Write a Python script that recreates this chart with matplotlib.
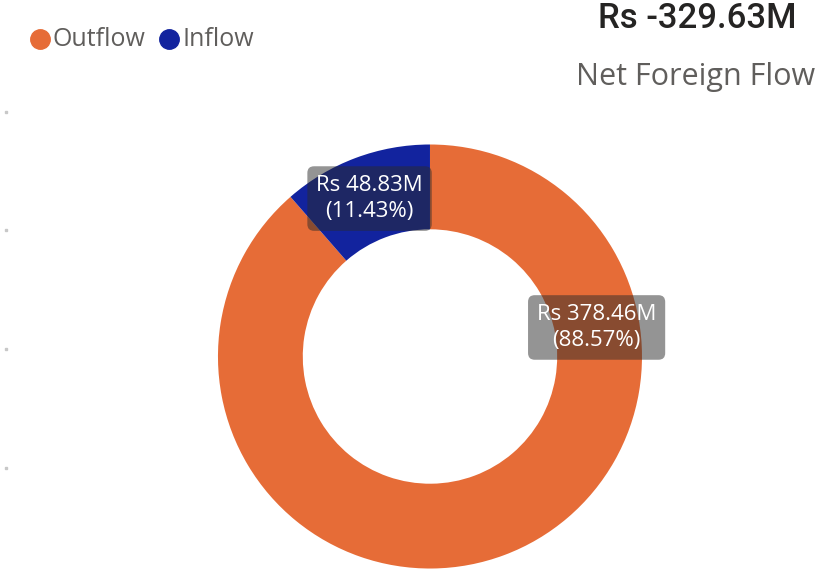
import matplotlib.pyplot as plt
from matplotlib.lines import Line2D

# data
categories = ['Outflow', 'Inflow']
values = [378.46, 48.83]
colors = ['#E66C37', '#12239E']
net_flow = values[1] - values[0]

plt.rcParams['font.family'] = ['Open Sans', 'DejaVu Sans']

fig = plt.figure(figsize=(8.38, 5.70), dpi=100)

# donut axes, centred on the ring
ax = fig.add_axes([0.2601, 0.0026, 0.506, 0.7439])
wedges, _ = ax.pie(values, colors=colors, startangle=90, counterclock=False,
                   radius=1.0, wedgeprops=dict(width=0.4, linewidth=0))
ax.set_xlim(-1, 1)
ax.set_ylim(-1, 1)
ax.set_aspect('equal')
ax.axis('off')

# data labels
total = sum(values)
label_pos = {'Outflow': (0.786, 0.137), 'Inflow': (-0.285, 0.745)}
for cat, v in zip(categories, values):
    x, y = label_pos[cat]
    ax.text(x, y, f'Rs {v:.2f}M\n({v / total * 100:.2f}%)', ha='center', va='center',
            color='white', fontsize=16, linespacing=1.3,
            bbox=dict(boxstyle='round,pad=0.4,rounding_size=0.3',
                      facecolor='#2b2b2b', alpha=0.5, edgecolor='none'))

# legend
for i, (cat, c) in enumerate(zip(categories, colors)):
    xm = [39.5, 169.0][i]
    fig.add_artist(Line2D([xm / 838], [1 - 39 / 570], marker='o', markersize=14,
                          color=c, linestyle='none', transform=fig.transFigure))
    fig.text((xm + 13) / 838, 1 - 39 / 570, cat, ha='left', va='center',
             fontsize=18, color='#605E5C')

# card title
fig.text(796 / 838, 1 - 18 / 570, f'Rs {net_flow:.2f}M', ha='right', va='center',
         fontsize=25, fontweight='medium', color='#252423', family=['Roboto', 'DejaVu Sans'])
fig.text(815 / 838, 1 - 77 / 570, 'Net Foreign Flow', ha='right', va='center',
         fontsize=22, color='#605E5C')

# faint axis ticks on the left edge
for yp in [112, 230, 349, 468]:
    fig.add_artist(Line2D([6 / 838], [1 - yp / 570], marker='s', markersize=1.5,
                          color='#c8c8c8', linestyle='none', transform=fig.transFigure))

fig.savefig('out.png', dpi=100)
